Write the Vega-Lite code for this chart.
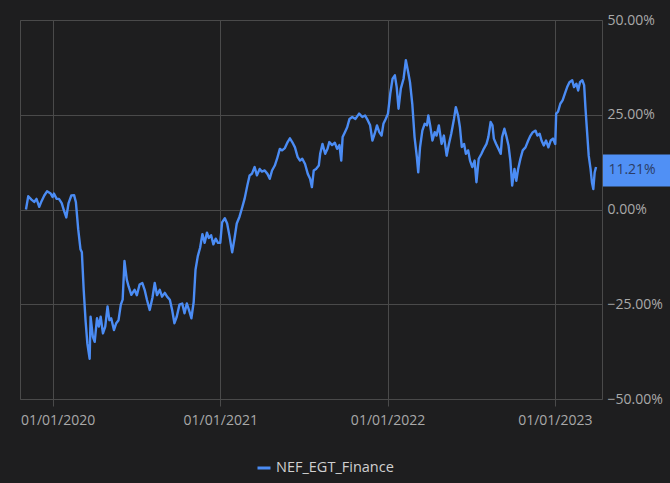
{
  "$schema": "https://vega.github.io/schema/vega-lite/v6.json",
  "width": 582,
  "height": 379,
  "autosize": {"type": "none"},
  "padding": {"left": 20, "top": 20, "right": 68, "bottom": 84},
  "background": "#1e1e1f",
  "config": {
    "font": "Open Sans",
    "view": {"stroke": "#4a4a4a", "strokeWidth": 1, "fill": "#1e1e1f"}
  },
  "datasets": {
    "series": [
      {"date": "2019-11-04", "value": 0.0},
      {"date": "2019-11-09", "value": 3.5},
      {"date": "2019-11-16", "value": 2.6},
      {"date": "2019-11-22", "value": 2.0},
      {"date": "2019-11-27", "value": 2.8},
      {"date": "2019-12-03", "value": 0.7},
      {"date": "2019-12-08", "value": 2.2},
      {"date": "2019-12-14", "value": 3.7},
      {"date": "2019-12-20", "value": 4.8},
      {"date": "2019-12-28", "value": 4.2},
      {"date": "2020-01-01", "value": 3.3},
      {"date": "2020-01-04", "value": 4.2},
      {"date": "2020-01-10", "value": 2.8},
      {"date": "2020-01-15", "value": 2.8},
      {"date": "2020-01-21", "value": 1.7},
      {"date": "2020-01-26", "value": -0.3},
      {"date": "2020-01-31", "value": -2.1},
      {"date": "2020-02-05", "value": 1.7},
      {"date": "2020-02-11", "value": 3.7},
      {"date": "2020-02-17", "value": 3.8},
      {"date": "2020-02-21", "value": 1.9},
      {"date": "2020-02-26", "value": -5.2},
      {"date": "2020-03-02", "value": -10.5},
      {"date": "2020-03-05", "value": -11.3},
      {"date": "2020-03-09", "value": -21.2},
      {"date": "2020-03-13", "value": -29.2},
      {"date": "2020-03-17", "value": -35.4},
      {"date": "2020-03-22", "value": -39.4},
      {"date": "2020-03-24", "value": -28.3},
      {"date": "2020-03-29", "value": -33.6},
      {"date": "2020-04-02", "value": -34.9},
      {"date": "2020-04-07", "value": -28.7},
      {"date": "2020-04-11", "value": -30.9},
      {"date": "2020-04-15", "value": -28.3},
      {"date": "2020-04-20", "value": -32.7},
      {"date": "2020-04-25", "value": -30.9},
      {"date": "2020-04-30", "value": -25.6},
      {"date": "2020-05-04", "value": -29.2},
      {"date": "2020-05-08", "value": -28.7},
      {"date": "2020-05-14", "value": -31.8},
      {"date": "2020-05-19", "value": -30.0},
      {"date": "2020-05-24", "value": -29.2},
      {"date": "2020-05-29", "value": -25.1},
      {"date": "2020-06-02", "value": -23.8},
      {"date": "2020-06-06", "value": -13.6},
      {"date": "2020-06-11", "value": -18.5},
      {"date": "2020-06-15", "value": -20.3},
      {"date": "2020-06-21", "value": -22.5},
      {"date": "2020-06-28", "value": -21.2},
      {"date": "2020-07-03", "value": -22.6},
      {"date": "2020-07-09", "value": -19.8},
      {"date": "2020-07-15", "value": -19.4},
      {"date": "2020-07-20", "value": -21.2},
      {"date": "2020-07-25", "value": -23.8},
      {"date": "2020-07-31", "value": -26.5},
      {"date": "2020-08-06", "value": -23.3},
      {"date": "2020-08-11", "value": -19.4},
      {"date": "2020-08-16", "value": -22.6},
      {"date": "2020-08-22", "value": -21.2},
      {"date": "2020-08-27", "value": -23.0},
      {"date": "2020-09-02", "value": -22.0},
      {"date": "2020-09-07", "value": -23.0},
      {"date": "2020-09-13", "value": -23.8},
      {"date": "2020-09-18", "value": -26.5},
      {"date": "2020-09-23", "value": -30.0},
      {"date": "2020-09-28", "value": -28.3},
      {"date": "2020-10-04", "value": -25.1},
      {"date": "2020-10-10", "value": -24.8},
      {"date": "2020-10-15", "value": -27.4},
      {"date": "2020-10-20", "value": -24.8},
      {"date": "2020-10-26", "value": -27.0},
      {"date": "2020-10-30", "value": -28.7},
      {"date": "2020-11-04", "value": -24.4},
      {"date": "2020-11-08", "value": -15.9},
      {"date": "2020-11-13", "value": -12.3},
      {"date": "2020-11-18", "value": -10.1},
      {"date": "2020-11-23", "value": -6.5},
      {"date": "2020-11-28", "value": -8.8},
      {"date": "2020-12-03", "value": -6.1},
      {"date": "2020-12-07", "value": -7.5},
      {"date": "2020-12-12", "value": -6.8},
      {"date": "2020-12-17", "value": -9.2},
      {"date": "2020-12-22", "value": -7.7},
      {"date": "2020-12-27", "value": -8.8},
      {"date": "2021-01-01", "value": -8.8},
      {"date": "2021-01-05", "value": -3.4},
      {"date": "2021-01-11", "value": -2.3},
      {"date": "2021-01-16", "value": -3.7},
      {"date": "2021-01-21", "value": -6.9},
      {"date": "2021-01-27", "value": -11.3},
      {"date": "2021-02-01", "value": -7.7},
      {"date": "2021-02-06", "value": -3.7},
      {"date": "2021-02-12", "value": -1.9},
      {"date": "2021-02-18", "value": 0.6},
      {"date": "2021-02-23", "value": 2.8},
      {"date": "2021-03-01", "value": 6.3},
      {"date": "2021-03-06", "value": 9.0},
      {"date": "2021-03-11", "value": 9.4},
      {"date": "2021-03-17", "value": 11.2},
      {"date": "2021-03-22", "value": 9.0},
      {"date": "2021-03-28", "value": 10.7},
      {"date": "2021-04-02", "value": 10.0},
      {"date": "2021-04-08", "value": 10.3},
      {"date": "2021-04-14", "value": 9.4},
      {"date": "2021-04-19", "value": 8.1},
      {"date": "2021-04-24", "value": 10.3},
      {"date": "2021-04-30", "value": 11.6},
      {"date": "2021-05-05", "value": 13.4},
      {"date": "2021-05-11", "value": 16.0},
      {"date": "2021-05-16", "value": 15.6},
      {"date": "2021-05-22", "value": 16.2},
      {"date": "2021-05-28", "value": 17.8},
      {"date": "2021-06-02", "value": 18.8},
      {"date": "2021-06-07", "value": 17.8},
      {"date": "2021-06-13", "value": 16.4},
      {"date": "2021-06-19", "value": 13.8},
      {"date": "2021-06-24", "value": 12.9},
      {"date": "2021-06-29", "value": 13.4},
      {"date": "2021-07-05", "value": 12.0},
      {"date": "2021-07-11", "value": 9.4},
      {"date": "2021-07-16", "value": 8.1},
      {"date": "2021-07-20", "value": 5.9},
      {"date": "2021-07-24", "value": 10.3},
      {"date": "2021-07-29", "value": 10.7},
      {"date": "2021-08-04", "value": 11.6},
      {"date": "2021-08-07", "value": 14.7},
      {"date": "2021-08-12", "value": 17.3},
      {"date": "2021-08-18", "value": 14.7},
      {"date": "2021-08-23", "value": 16.0},
      {"date": "2021-08-27", "value": 17.8},
      {"date": "2021-09-02", "value": 17.0},
      {"date": "2021-09-08", "value": 17.6},
      {"date": "2021-09-13", "value": 16.0},
      {"date": "2021-09-18", "value": 17.0},
      {"date": "2021-09-22", "value": 12.9},
      {"date": "2021-09-25", "value": 19.1},
      {"date": "2021-09-30", "value": 20.4},
      {"date": "2021-10-05", "value": 21.7},
      {"date": "2021-10-10", "value": 23.9},
      {"date": "2021-10-16", "value": 24.4},
      {"date": "2021-10-23", "value": 23.9},
      {"date": "2021-10-31", "value": 25.3},
      {"date": "2021-11-07", "value": 24.4},
      {"date": "2021-11-13", "value": 24.8},
      {"date": "2021-11-19", "value": 23.5},
      {"date": "2021-11-24", "value": 22.2},
      {"date": "2021-11-29", "value": 18.2},
      {"date": "2021-12-04", "value": 20.0},
      {"date": "2021-12-09", "value": 22.2},
      {"date": "2021-12-14", "value": 20.4},
      {"date": "2021-12-19", "value": 19.5},
      {"date": "2021-12-23", "value": 22.6},
      {"date": "2021-12-28", "value": 23.9},
      {"date": "2022-01-02", "value": 25.3},
      {"date": "2022-01-07", "value": 30.6},
      {"date": "2022-01-12", "value": 34.5},
      {"date": "2022-01-17", "value": 35.4},
      {"date": "2022-01-21", "value": 32.3},
      {"date": "2022-01-25", "value": 26.6},
      {"date": "2022-01-30", "value": 31.9},
      {"date": "2022-02-05", "value": 34.5},
      {"date": "2022-02-10", "value": 39.4},
      {"date": "2022-02-15", "value": 36.3},
      {"date": "2022-02-19", "value": 33.6},
      {"date": "2022-02-24", "value": 27.9},
      {"date": "2022-03-01", "value": 19.1},
      {"date": "2022-03-06", "value": 13.8},
      {"date": "2022-03-09", "value": 9.8},
      {"date": "2022-03-13", "value": 16.5},
      {"date": "2022-03-18", "value": 20.8},
      {"date": "2022-03-23", "value": 22.6},
      {"date": "2022-03-28", "value": 22.2},
      {"date": "2022-03-31", "value": 24.8},
      {"date": "2022-04-04", "value": 22.2},
      {"date": "2022-04-09", "value": 18.2},
      {"date": "2022-04-14", "value": 20.4},
      {"date": "2022-04-18", "value": 19.5},
      {"date": "2022-04-23", "value": 22.2},
      {"date": "2022-04-29", "value": 17.3},
      {"date": "2022-05-04", "value": 19.5},
      {"date": "2022-05-10", "value": 14.2},
      {"date": "2022-05-15", "value": 17.3},
      {"date": "2022-05-20", "value": 20.0},
      {"date": "2022-05-26", "value": 23.9},
      {"date": "2022-05-30", "value": 27.0},
      {"date": "2022-06-04", "value": 24.8},
      {"date": "2022-06-08", "value": 21.7},
      {"date": "2022-06-12", "value": 16.5},
      {"date": "2022-06-17", "value": 17.3},
      {"date": "2022-06-21", "value": 14.7},
      {"date": "2022-06-26", "value": 15.6},
      {"date": "2022-06-30", "value": 12.9},
      {"date": "2022-07-05", "value": 11.2},
      {"date": "2022-07-10", "value": 12.9},
      {"date": "2022-07-14", "value": 7.2},
      {"date": "2022-07-19", "value": 13.4},
      {"date": "2022-07-25", "value": 14.7},
      {"date": "2022-07-30", "value": 16.0},
      {"date": "2022-08-05", "value": 17.3},
      {"date": "2022-08-09", "value": 19.1},
      {"date": "2022-08-14", "value": 23.1},
      {"date": "2022-08-18", "value": 22.2},
      {"date": "2022-08-21", "value": 18.7},
      {"date": "2022-08-26", "value": 17.3},
      {"date": "2022-08-31", "value": 16.0},
      {"date": "2022-09-05", "value": 14.7},
      {"date": "2022-09-08", "value": 19.1},
      {"date": "2022-09-13", "value": 21.3},
      {"date": "2022-09-17", "value": 19.5},
      {"date": "2022-09-22", "value": 16.9},
      {"date": "2022-09-26", "value": 12.9},
      {"date": "2022-09-30", "value": 6.3},
      {"date": "2022-10-05", "value": 10.7},
      {"date": "2022-10-09", "value": 7.6},
      {"date": "2022-10-13", "value": 10.7},
      {"date": "2022-10-18", "value": 13.4},
      {"date": "2022-10-23", "value": 15.6},
      {"date": "2022-10-29", "value": 16.4},
      {"date": "2022-11-04", "value": 18.2},
      {"date": "2022-11-09", "value": 19.5},
      {"date": "2022-11-14", "value": 20.4},
      {"date": "2022-11-20", "value": 20.8},
      {"date": "2022-11-24", "value": 19.5},
      {"date": "2022-11-29", "value": 20.0},
      {"date": "2022-12-03", "value": 18.2},
      {"date": "2022-12-08", "value": 16.9},
      {"date": "2022-12-13", "value": 18.2},
      {"date": "2022-12-18", "value": 16.4},
      {"date": "2022-12-23", "value": 18.2},
      {"date": "2022-12-28", "value": 18.7},
      {"date": "2023-01-02", "value": 17.3},
      {"date": "2023-01-04", "value": 25.3},
      {"date": "2023-01-08", "value": 25.8},
      {"date": "2023-01-13", "value": 27.9},
      {"date": "2023-01-18", "value": 28.8},
      {"date": "2023-01-23", "value": 30.6},
      {"date": "2023-01-28", "value": 32.3},
      {"date": "2023-02-02", "value": 33.6},
      {"date": "2023-02-08", "value": 34.1},
      {"date": "2023-02-12", "value": 32.3},
      {"date": "2023-02-17", "value": 33.2},
      {"date": "2023-02-21", "value": 31.4},
      {"date": "2023-02-25", "value": 33.6},
      {"date": "2023-03-02", "value": 34.1},
      {"date": "2023-03-06", "value": 32.8},
      {"date": "2023-03-09", "value": 26.6},
      {"date": "2023-03-13", "value": 19.5},
      {"date": "2023-03-16", "value": 14.2},
      {"date": "2023-03-20", "value": 10.7},
      {"date": "2023-03-23", "value": 7.2},
      {"date": "2023-03-26", "value": 5.4},
      {"date": "2023-03-29", "value": 9.8},
      {"date": "2023-04-01", "value": 11.21}
    ]
  },
  "layer": [
    {
      "data": {"name": "series"},
      "mark": {"type": "line", "strokeWidth": 2.4, "strokeJoin": "round"},
      "encoding": {
        "x": {
          "field": "date",
          "type": "temporal",
          "scale": {"domain": [{"year": 2019, "month": 10, "date": 22}, {"year": 2023, "month": 4, "date": 14}]},
          "axis": {
            "title": null,
            "values": [
              {"year": 2020, "month": 1, "date": 1},
              {"year": 2021, "month": 1, "date": 1},
              {"year": 2022, "month": 1, "date": 1},
              {"year": 2023, "month": 1, "date": 1}
            ],
            "format": "%d/%m/%Y",
            "labelFlush": false,
            "labelOffset": {"condition": {"test": "year(datum.value) == 2020", "value": 5}, "value": 0},
            "labelFontSize": 14,
            "labelColor": "#a9a9a9",
            "labelPadding": 7,
            "tickSize": 7,
            "tickColor": "#4a4a4a",
            "domain": false,
            "grid": true,
            "gridColor": "#4a4a4a",
            "gridOpacity": 1
          }
        },
        "y": {
          "field": "value",
          "type": "quantitative",
          "scale": {"domain": [-50, 50]},
          "axis": {
            "title": null,
            "orient": "right",
            "values": [-50, -25, 0, 25, 50],
            "labelExpr": "format(datum.value, '.2f') + '%'",
            "labelFlush": false,
            "labelFontSize": 14,
            "labelColor": "#a9a9a9",
            "labelPadding": 5,
            "ticks": false,
            "domain": false,
            "grid": true,
            "gridColor": "#4a4a4a",
            "gridOpacity": 1
          }
        },
        "color": {
          "datum": "NEF_EGT_Finance",
          "scale": {"range": ["#4b8cf4"]},
          "legend": {
            "title": null,
            "orient": "none",
            "legendX": 236,
            "legendY": 440,
            "padding": 0,
            "symbolType": "stroke",
            "symbolSize": 169,
            "symbolStrokeWidth": 3,
            "labelFontSize": 14.5,
            "labelColor": "#d0d0d0",
            "labelOffset": 4
          }
        }
      }
    },
    {
      "data": {"values": [{"label": "11.21%"}]},
      "mark": {"type": "rect", "clip": false, "color": "#5090f5"},
      "encoding": {
        "x": {"datum": {"year": 2023, "month": 4, "date": 16}, "type": "temporal"},
        "x2": {"datum": {"year": 2023, "month": 9, "date": 10}},
        "y": {"datum": 14.5, "type": "quantitative"},
        "y2": {"datum": 6.1}
      }
    },
    {
      "data": {"values": [{"label": "11.21%"}]},
      "mark": {"type": "text", "clip": false, "align": "left", "baseline": "middle", "fontSize": 14, "color": "#2c3d66"},
      "encoding": {
        "x": {"datum": {"year": 2023, "month": 4, "date": 28}, "type": "temporal"},
        "y": {"datum": 10.3, "type": "quantitative"},
        "text": {"field": "label"}
      }
    }
  ]
}
